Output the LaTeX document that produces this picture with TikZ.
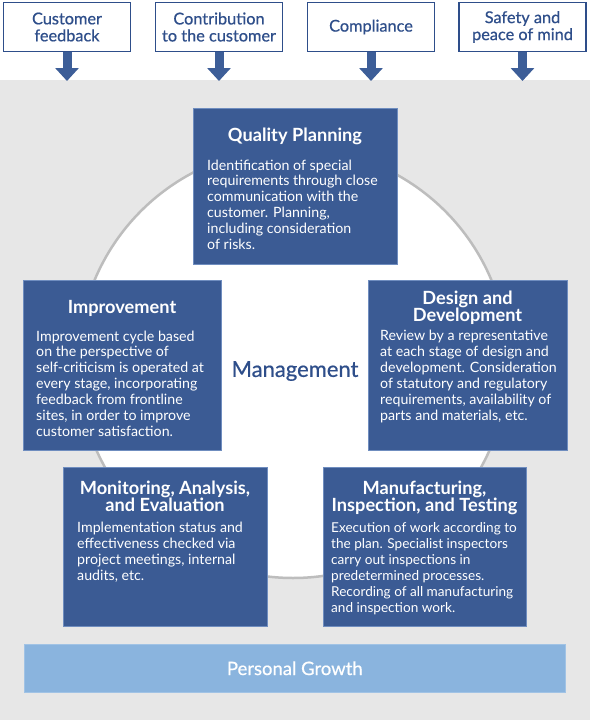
\documentclass[tikz,border=0pt]{standalone}
\usepackage{fontspec}
\setmainfont{Lato}
\newfontfamily\medfont{Lato}[FakeBold=0.6]
\usetikzlibrary{arrows.meta}
\definecolor{boxblue}{HTML}{3B5B94}
\definecolor{boxedge}{HTML}{6F8DBF}
\definecolor{topblue}{HTML}{2E4E8A}
\definecolor{arrowblue}{HTML}{3D5E98}
\definecolor{bggray}{HTML}{E7E7E7}
\definecolor{circedge}{HTML}{BDBDBD}
\definecolor{growth}{HTML}{8AB4DE}
\tikzset{
  topbox/.style={draw=topblue, line width=1.8pt, fill=white, minimum width=127pt, minimum height=49pt,
    text=topblue, align=center, font=\medfont\fontsize{16.3}{17}\selectfont, inner sep=0pt},
  downarrow/.style={draw=arrowblue, line width=9pt, -{Triangle[width=23pt,length=13pt]}},
  bluebox/.style={draw=boxedge, line width=0.6pt, fill=boxblue, anchor=north west, inner sep=0pt},
  boxtitle/.style={text=white, font=\bfseries\fontsize{18.2}{17.4}\selectfont, align=center, anchor=base, inner sep=0pt},
  boxbody/.style={text=white, font=\fontsize{14.2}{15.9}\selectfont, align=left, anchor=base west, inner sep=0pt},
}
\begin{document}
\begin{tikzpicture}[x=1pt,y=-1pt]
\useasboundingbox (0,0) rectangle (590,720);
\fill[bggray] (0,80) rectangle (590,720);
% top boxes
\node[topbox] (cf) at (67,27) {Customer\\feedback};
\node[topbox] (cc) at (219,27) {Contribution\\to the customer};
\node[topbox] (co) at (371,27) {Compliance};
\node[topbox] (sp) at (522.5,27) {Safety and\\peace of mind};
\coordinate (cfe) at (67,81);
\coordinate (cce) at (219,81);
\coordinate (coe) at (371,81);
\coordinate (spe) at (522.5,81);
\draw[downarrow] (cf.south) -- (cfe);
\draw[downarrow] (cc.south) -- (cce);
\draw[downarrow] (co.south) -- (coe);
\draw[downarrow] (sp.south) -- (spe);
% circle
\draw[circedge, line width=2.5pt, fill=white] (293,363) circle[radius=215pt];
\node[text=topblue, font=\medfont\fontsize{22}{24}\selectfont, inner sep=0pt] (mg) at (295,371) {Management};
% Quality Planning
\node[bluebox, minimum width=204pt, minimum height=156pt] (qp) at (193,108) {};
\node[boxtitle] (qpt) at (295,141) {Quality Planning};
\node[boxbody] (qpb) at (207,249.5) {Identification of special\\requirements through close\\communication with the\\customer. Planning,\\including consideration\\of risks.};
% Improvement
\node[bluebox, minimum width=198pt, minimum height=170pt] (im) at (23,280) {};
\node[boxtitle] (imt) at (122,313) {Improvement};
\node[boxbody] (imb) at (36,436.4) {Improvement cycle based\\on the perspective of\\self-criticism is operated at\\every stage, incorporating\\feedback from frontline\\sites, in order to improve\\customer satisfaction.};
% Design and Development
\node[bluebox, minimum width=199pt, minimum height=170pt] (dd) at (368,280) {};
\node[boxtitle] (ddt) at (467.5,321.5) {Design and\\Development};
\node[boxbody] (ddb) at (380,420) {Review by a representative\\at each stage of design and\\development. Consideration\\of statutory and regulatory\\requirements, availability of\\parts and materials, etc.};
% Monitoring
\node[bluebox, minimum width=204pt, minimum height=159pt] (ma) at (63,467) {};
\node[boxtitle] (mat) at (165,511.5) {Monitoring, Analysis,\\and Evaluation};
\node[boxbody] (mab) at (77,580.2) {Implementation status and\\effectiveness checked via\\project meetings, internal\\audits, etc.};
% Manufacturing
\node[bluebox, minimum width=203pt, minimum height=159pt] (mf) at (323,467) {};
\node[boxtitle] (mft) at (424.5,511.5) {Manufacturing,\\Inspection, and Testing};
\node[boxbody, font=\fontsize{13.6}{15.9}\selectfont] (mfb) at (331,612) {Execution of work according to\\the plan. Specialist inspectors\\carry out inspections in\\predetermined processes.\\Recording of all manufacturing\\and inspection work.};
% Personal Growth
\node[fill=growth, draw=growth!80!white, line width=0.6pt, minimum width=541pt, minimum height=48pt, anchor=north west, inner sep=0pt] (pg) at (24,644) {};
\node[text=white, font=\medfont\fontsize{18.5}{20}\selectfont, inner sep=0pt] (pgt) at (pg.center) {Personal Growth};
\end{tikzpicture}
\end{document}
